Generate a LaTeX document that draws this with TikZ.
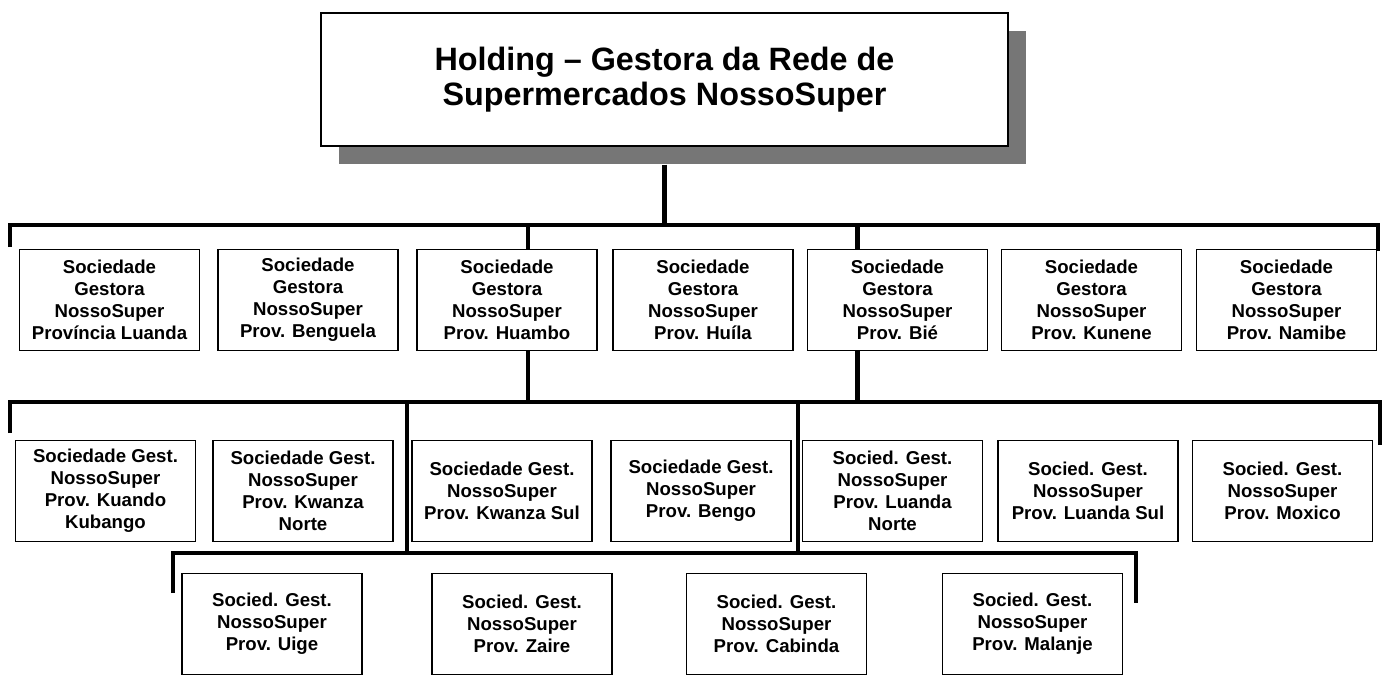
\documentclass[tikz,border=0pt]{standalone}
\usepackage{fontspec}
\setmainfont{Liberation Sans}
\usetikzlibrary{calc,shadows}
\definecolor{shadowGray}{RGB}{118,118,118}
\definecolor{lineBlack}{RGB}{0,0,0}

\begin{document}
\begin{tikzpicture}[
  x=0.02cm, y=-0.02cm,
  holdingbox/.style={draw=lineBlack, line width=0.8pt, fill=white,
    minimum width=13.74cm, minimum height=2.66cm, align=center,
    font=\fontsize{18.4}{19.9}\selectfont\bfseries,
    drop shadow={shadow xshift=0.36cm, shadow yshift=-0.36cm, fill=shadowGray, opacity=1}},
  unit/.style={draw=lineBlack, line width=0.7pt, fill=white, inner sep=2pt,
    minimum width=3.6cm, minimum height=2.02cm, align=center,
    font=\fontsize{10.6}{12.6}\selectfont\bfseries},
  bar/.style={draw=lineBlack, line width=2.6pt, line join=miter},
  link/.style={draw=lineBlack, line width=2.4pt}
]
\useasboundingbox (0,0) rectangle (1387,677);

% Holding at the top.
\node[holdingbox] (holding) at (664.5,79.5) {Holding -- Gestora da Rede de\\Supermercados NossoSuper};

% First level of provincial companies.
\node[unit] (luanda)   at (109.5,300)  {Sociedade\\Gestora\\NossoSuper\\Província Luanda};
\node[unit] (benguela) at (308,300)    {Sociedade\\Gestora\\NossoSuper\\Prov. Benguela};
\node[unit] (huambo)   at (507,300)    {Sociedade\\Gestora\\NossoSuper\\Prov. Huambo};
\node[unit] (huila)    at (703,300)    {Sociedade\\Gestora\\NossoSuper\\Prov. Huíla};
\node[unit] (bie)      at (897.5,300)  {Sociedade\\Gestora\\NossoSuper\\Prov. Bié};
\node[unit] (kunene)   at (1091.5,300) {Sociedade\\Gestora\\NossoSuper\\Prov. Kunene};
\node[unit] (namibe)   at (1286.5,300) {Sociedade\\Gestora\\NossoSuper\\Prov. Namibe};

% Second level.
\node[unit] (kuando)      at (105.5,491)  {Sociedade Gest.\\NossoSuper\\Prov. Kuando\\Kubango};
\node[unit] (kwanzanorte) at (303,491)    {Sociedade Gest.\\NossoSuper\\Prov. Kwanza\\Norte};
\node[unit] (kwanzasul)   at (502,491)    {Sociedade Gest.\\NossoSuper\\Prov. Kwanza Sul};
\node[unit] (bengo)       at (701,491)    {Sociedade Gest.\\NossoSuper\\Prov. Bengo};
\node[unit] (luandanorte) at (892.5,491)  {Socied. Gest.\\NossoSuper\\Prov. Luanda\\Norte};
\node[unit] (luandasul)   at (1088,491)   {Socied. Gest.\\NossoSuper\\Prov. Luanda Sul};
\node[unit] (moxico)      at (1282.5,491) {Socied. Gest.\\NossoSuper\\Prov. Moxico};

% Third level.
\node[unit] (uige)    at (272,624)    {Socied. Gest.\\NossoSuper\\Prov. Uige};
\node[unit] (zaire)   at (522,624)    {Socied. Gest.\\NossoSuper\\Prov. Zaire};
\node[unit] (cabinda) at (776.5,624)  {Socied. Gest.\\NossoSuper\\Prov. Cabinda};
\node[unit] (malanje) at (1032.5,624) {Socied. Gest.\\NossoSuper\\Prov. Malanje};

% Bus bars with their end ticks.
\coordinate (bar1w) at (10,225);
\coordinate (bar1e) at (1378,225);
\coordinate (bar2w) at (10,402);
\coordinate (bar2e) at (1380,402);
\coordinate (bar3w) at (173,553);
\coordinate (bar3e) at (1136,553);

\draw[bar] ($(bar1w)+(0,22)$) -- (bar1w) -- (bar1e) -- ($(bar1e)+(0,26)$);
\draw[bar] ($(bar2w)+(0,31)$) -- (bar2w) -- (bar2e) -- ($(bar2e)+(0,43)$);
\draw[bar] ($(bar3w)+(0,40)$) -- (bar3w) -- (bar3e) -- ($(bar3e)+(0,50)$);

% Links between holding, boxes and bars.
\coordinate (huambolink) at ($(huambo.north)+(21,0)$);
\coordinate (bielink) at ($(bie.north)+(-40,0)$);
\coordinate (split1) at (407,402);
\coordinate (split2) at (798,402);

\draw[link, shorten <=0.36cm] (holding.south) -- (holding.south |- bar1w);
\draw[link] (huambolink) -- (huambolink |- bar1w);
\draw[link] (bielink) -- (bielink |- bar1w);
\draw[link] (huambolink |- huambo.south) -- (huambolink |- bar2w);
\draw[link] (bielink |- bie.south) -- (bielink |- bar2w);
\draw[link] (split1) -- (split1 |- bar3w);
\draw[link] (split2) -- (split2 |- bar3w);

\end{tikzpicture}
\end{document}
